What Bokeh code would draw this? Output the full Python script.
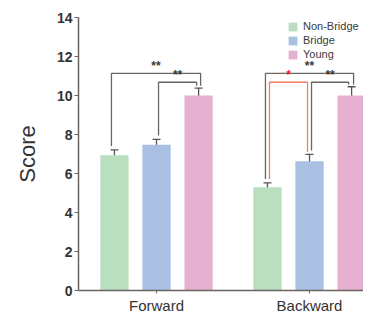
from bokeh.plotting import figure
from bokeh.models import ColumnDataSource, Legend, LegendItem, FixedTicker, Whisker
from bokeh.embed import file_html
from bokeh.resources import INLINE
from bokeh.core.properties import value

# ---- data ----
categories = ["Forward", "Backward"]
groups = ["Non-Bridge", "Bridge", "Young"]
colors = ["#b9dfc0", "#a9c0e3", "#e6b1d0"]
means = {
    "Non-Bridge": [6.93, 5.3],
    "Bridge": [7.48, 6.63],
    "Young": [10.0, 10.0],
}
errs = {
    "Non-Bridge": [0.28, 0.22],
    "Bridge": [0.27, 0.35],
    "Young": [0.38, 0.45],
}
y_ticks = [0, 2, 4, 6, 8, 10, 12, 14]
# significance brackets: (category index, from group, to group, height, label, colour)
brackets = [
    (0, 0, 2, 11.13, "**", "#6b6461"),
    (0, 1, 2, 10.68, "**", "#6b6461"),
    (1, 0, 2, 11.13, "**", "#6b6461"),
    (1, 0, 1, 10.68, "*", "#f27c64"),
    (1, 1, 2, 10.68, "**", "#6b6461"),
]

# ---- layout / style constants ----
centers = [1.0, 2.0]
offsets = [-0.275, 0.0, 0.275]
bar_w = 0.185
PX = 1 / 153.0  # one screen pixel in x data units
# pixel nudges of bracket legs (left, right), one pair per bracket
leg_nudge = [(-3, 2), (2, -2), (-2, 2), (2, -2), (2, -3)]
axis_col = "#6b6461"
FONT = "Liberation Sans"

p = figure(width=363, height=316, output_backend="svg", toolbar_location=None,
           x_range=(0.49, 0.49 + 285 * PX), y_range=(0, 14),
           min_border_left=78, min_border_right=0, min_border_top=17, min_border_bottom=0)
p.xgrid.visible = False
p.ygrid.visible = False
p.outline_line_color = None
p.background_fill_color = "white"

renderers = []
for gi, g in enumerate(groups):
    xs = [c + offsets[gi] for c in centers]
    src = ColumnDataSource(dict(x=xs, top=means[g],
                                lo=[m - e for m, e in zip(means[g], errs[g])],
                                hi=[m + e for m, e in zip(means[g], errs[g])]))
    r = p.vbar(x="x", top="top", width=bar_w, source=src, fill_color=colors[gi], line_color=None)
    renderers.append(r)
    w = Whisker(base="x", lower="lo", upper="hi", source=src, line_color="#555555", line_width=1.3)
    for head in (w.upper_head, w.lower_head):
        head.size = 8
        head.line_color = "#555555"
        head.line_width = 1.3
    p.add_layout(w)

# significance brackets
for bi, (ci, ga, gb, h, lab, col) in enumerate(brackets):
    xa = centers[ci] + offsets[ga] + leg_nudge[bi][0] * PX
    xb = centers[ci] + offsets[gb] + leg_nudge[bi][1] * PX
    ya = means[groups[ga]][ci] + errs[groups[ga]][ci] + 0.2
    yb = means[groups[gb]][ci] + errs[groups[gb]][ci] + 0.12
    p.line([xa, xa, xb, xb], [ya, h, h, yb], line_color=col, line_width=1.3)
    tcol = "#e8251c" if col != axis_col else "#3a3a3a"
    p.text(x=[(xa + xb) / 2], y=[h + 0.02], text=[lab], text_align="center",
           text_baseline="bottom", text_font=value(FONT), text_font_size="12px",
           text_font_style="bold", text_color=tcol)

# axes
p.yaxis.ticker = FixedTicker(ticks=y_ticks)
p.yaxis.axis_label = "Score"
p.yaxis.axis_label_text_font = FONT
p.yaxis.axis_label_text_font_size = "22px"
p.yaxis.axis_label_text_font_style = "normal"
p.yaxis.axis_label_text_color = "#333333"
p.yaxis.axis_label_standoff = 14
p.yaxis.major_label_text_font = FONT
p.yaxis.major_label_text_font_size = "14px"
p.yaxis.major_label_text_font_style = "bold"
p.yaxis.major_label_text_color = "#333333"
p.yaxis.major_label_standoff = 2
p.yaxis.major_tick_out = 4
p.yaxis.major_tick_in = 0
p.yaxis.minor_tick_out = 0
p.yaxis.minor_tick_in = 0
p.yaxis.axis_line_color = axis_col
p.yaxis.major_tick_line_color = axis_col
p.yaxis.axis_line_width = 1.5

p.xaxis.ticker = FixedTicker(ticks=centers)
p.xaxis.major_label_overrides = {c: n for c, n in zip(centers, categories)}
p.xaxis.major_label_text_font = FONT
p.xaxis.major_label_text_font_size = "15px"
p.xaxis.major_label_text_color = "#333333"
p.xaxis.major_label_standoff = 3
p.xaxis.major_tick_out = 3
p.xaxis.major_tick_in = 0
p.xaxis.minor_tick_out = 0
p.xaxis.minor_tick_in = 0
p.xaxis.axis_line_color = axis_col
p.xaxis.major_tick_line_color = axis_col
p.xaxis.axis_line_width = 1.5

legend = Legend(items=[LegendItem(label=g, renderers=[renderers[i]]) for i, g in enumerate(groups)],
                location=(209, 230), orientation="vertical")
legend.border_line_alpha = 0
legend.background_fill_alpha = 0
legend.padding = 0
legend.margin = 0
legend.spacing = 2
legend.glyph_width = 11
legend.glyph_height = 11
legend.label_height = 12
legend.label_standoff = 5
legend.label_text_font = FONT
legend.label_text_font_size = "11px"
legend.label_text_color = "#3a3a3a"
p.add_layout(legend)

open("out.html", "w").write(file_html(p, INLINE))
